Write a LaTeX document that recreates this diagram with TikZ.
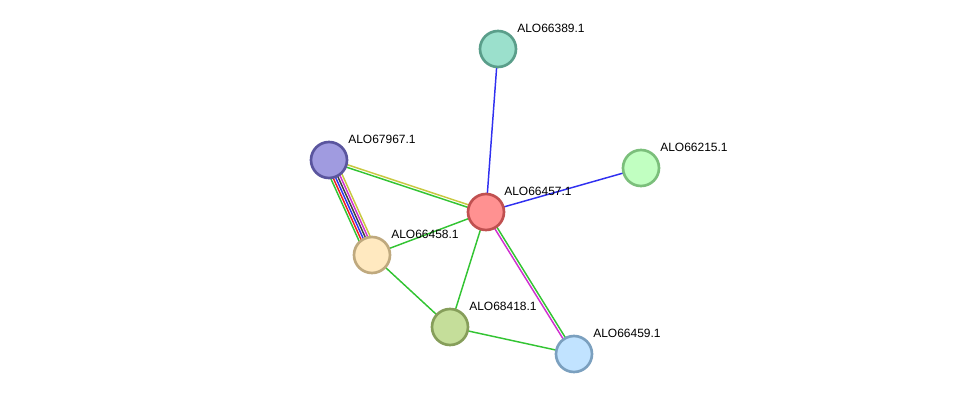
\documentclass[tikz,border=0pt]{standalone}
\usepackage{fontspec}
\setmainfont{Liberation Sans}
\usetikzlibrary{calc,backgrounds}
\definecolor{eg}{HTML}{33C433}
\definecolor{eb}{HTML}{3030F0}
\definecolor{er}{HTML}{F02020}
\definecolor{ek}{HTML}{404040}
\definecolor{em}{HTML}{D030D0}
\definecolor{ey}{HTML}{C8C840}
\tikzset{
  prot/.style={circle, minimum size=36*0.75pt, inner sep=0pt, line width=2pt},
  lbl/.style={font=\fontsize{9}{10}\selectfont, anchor=west, inner sep=0pt},
  edge/.style={line width=1.1pt},
}
\newcommand{\pedge}[4]{% color, offset(px), from, to
  \draw[edge,#1] ($(#3)!#2*0.75pt!90:(#4)$) -- ($(#4)!#2*0.75pt!-90:(#3)$);}
\begin{document}
\begin{tikzpicture}[x=0.75pt,y=-0.75pt]
\useasboundingbox (0,0) rectangle (976,400);
\node[prot, draw={rgb,255:red,90;green,158;blue,138}, fill={rgb,255:red,155;green,224;blue,204}] (n389) at (498,49) {};
\node[prot, draw={rgb,255:red,123;green,191;blue,123}, fill={rgb,255:red,193;green,255;blue,193}] (n215) at (641,168) {};
\node[prot, draw={rgb,255:red,90;green,85;blue,158}, fill={rgb,255:red,160;green,155;blue,224}] (n967) at (329,160) {};
\node[prot, draw={rgb,255:red,192;green,80;blue,80}, fill={rgb,255:red,255;green,145;blue,145}] (n457) at (486,212) {};
\node[prot, draw={rgb,255:red,191;green,169;blue,126}, fill={rgb,255:red,255;green,233;blue,192}] (n458) at (372,255) {};
\node[prot, draw={rgb,255:red,134;green,158;blue,90}, fill={rgb,255:red,197;green,222;blue,154}] (n418) at (450,327) {};
\node[prot, draw={rgb,255:red,123;green,160;blue,191}, fill={rgb,255:red,193;green,227;blue,255}] (n459) at (574,354) {};

\node[lbl] (t389) at (517,28) {ALO66389.1};
\node[lbl] (t215) at (660,147) {ALO66215.1};
\node[lbl] (t967) at (348,139) {ALO67967.1};
\node[lbl] (t457) at (504,191) {ALO66457.1};
\node[lbl] (t458) at (391,234) {ALO66458.1};
\node[lbl] (t418) at (469,306) {ALO68418.1};
\node[lbl] (t459) at (593,333) {ALO66459.1};

\begin{pgfonlayer}{background}
\draw[edge,eb] (n457.center) -- (n389.center);
\draw[edge,eb] (n457.center) -- (n215.center);
\draw[edge,eg] (n457.center) -- (n458.center);
\draw[edge,eg] (n457.center) -- (n418.center);
\draw[edge,eg] (n458.center) -- (n418.center);
\draw[edge,eg] (n418.center) -- (n459.center);
\pedge{ey}{1.3}{n967.center}{n457.center}
\pedge{eg}{-1.3}{n967.center}{n457.center}
\pedge{em}{-1.3}{n457.center}{n459.center}
\pedge{eg}{1.3}{n457.center}{n459.center}
\pedge{eg}{-6}{n967.center}{n458.center}
\pedge{er}{-3.6}{n967.center}{n458.center}
\pedge{eb}{-1.2}{n967.center}{n458.center}
\pedge{ek}{1.2}{n967.center}{n458.center}
\pedge{em}{3.6}{n967.center}{n458.center}
\pedge{ey}{6}{n967.center}{n458.center}
\end{pgfonlayer}
\end{tikzpicture}
\end{document}
